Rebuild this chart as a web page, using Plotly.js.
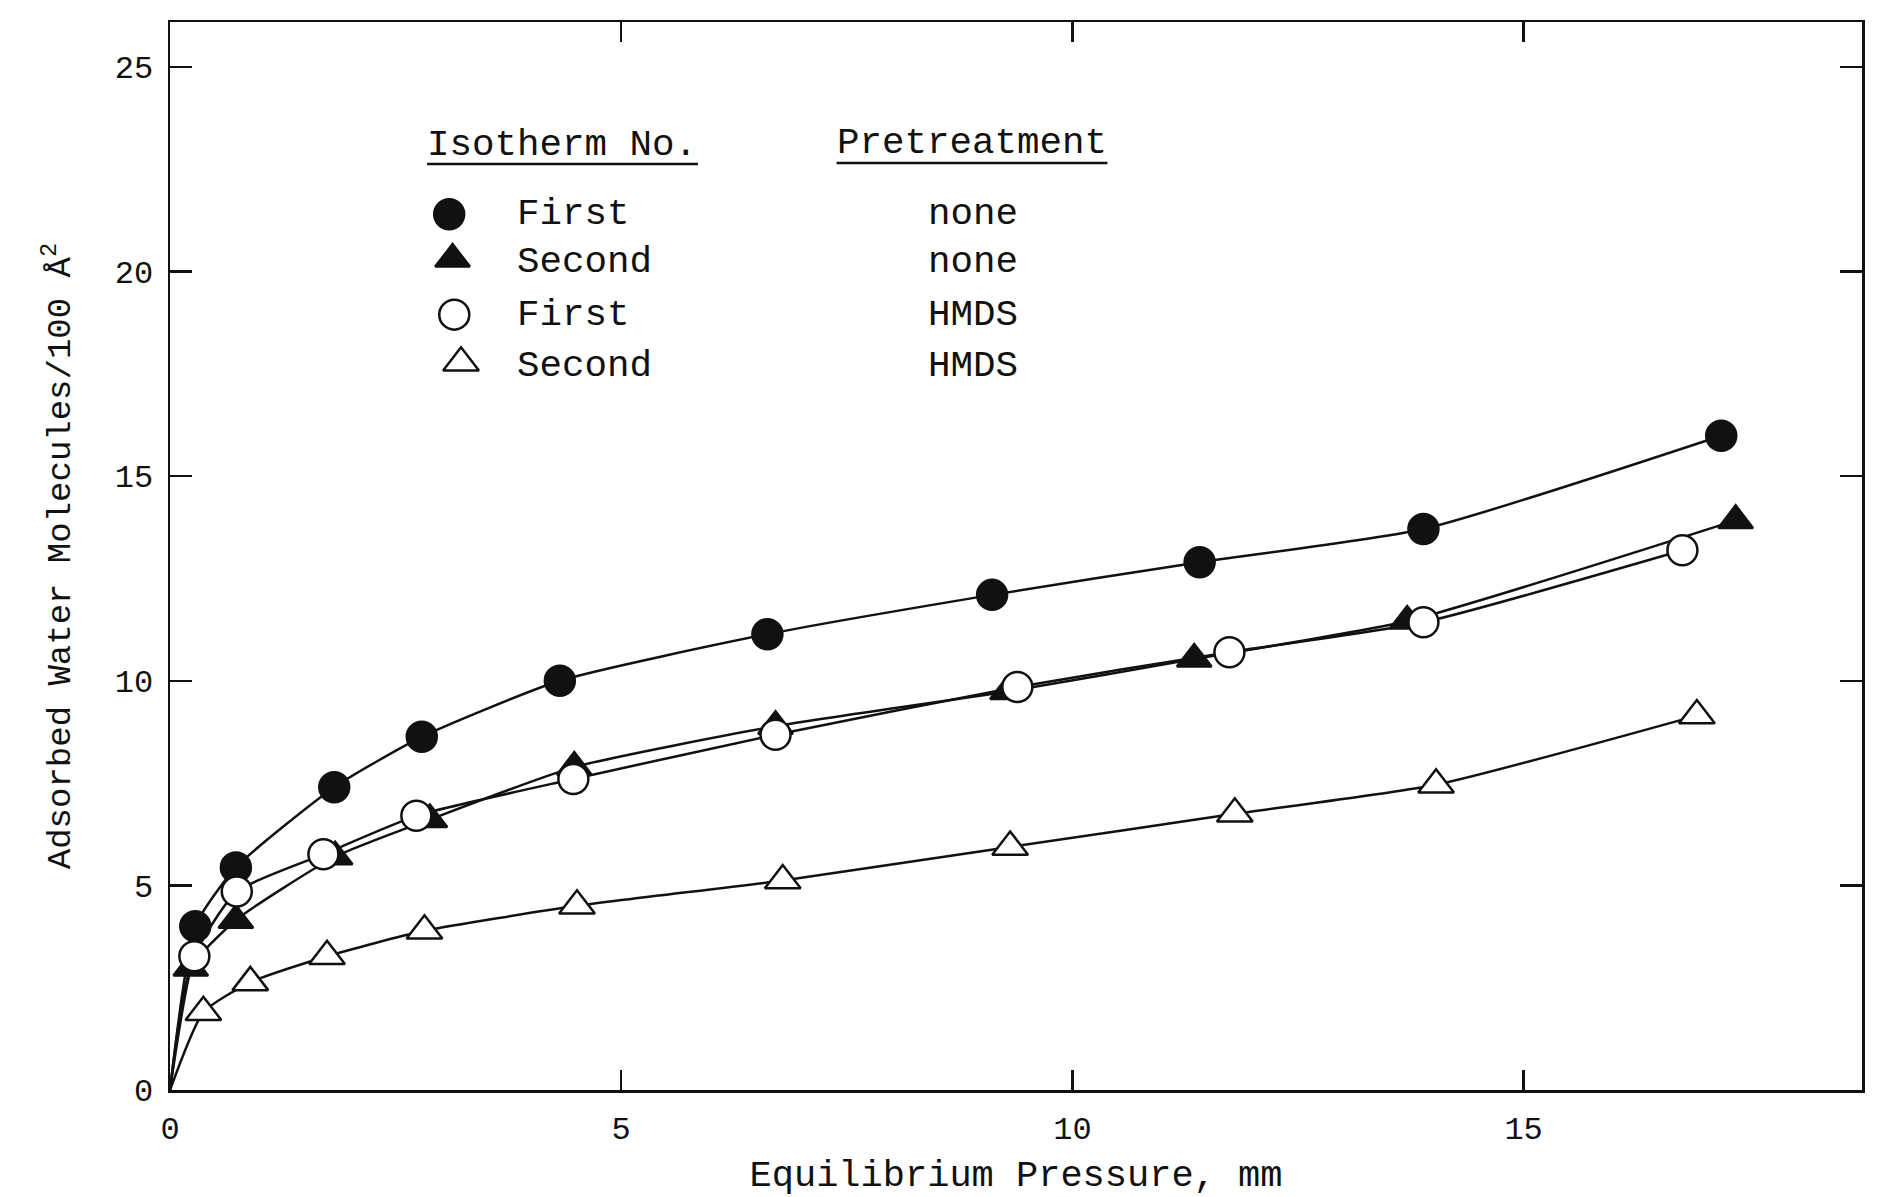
<!DOCTYPE html>
<html>
<head>
<meta charset="utf-8">
<script src="https://cdn.plot.ly/plotly-3.0.1.min.js"></script>
<style>html,body{margin:0;padding:0;background:#fff;}</style>
</head>
<body>
<div id="chart" style="width:1878px;height:1197px;"></div>
<script>
// Equilibrium pressure (mm) and adsorbed water molecules / 100 Å^2
const firstNoneX  = [0.28, 0.73, 1.82, 2.79, 4.32, 6.62, 9.11, 11.41, 13.89, 17.19];
const firstNoneY  = [4.0, 5.44, 7.40, 8.63, 10.0, 11.14, 12.1, 12.9, 13.71, 15.99];
const secondNoneX = [0.23, 0.73, 1.83, 2.88, 4.48, 6.71, 9.28, 11.35, 13.71, 17.35];
const secondNoneY = [2.98, 4.15, 5.70, 6.61, 7.89, 8.89, 9.74, 10.53, 11.46, 13.92];
const firstHmdsX  = [0.27, 0.74, 1.70, 2.73, 4.47, 6.71, 9.39, 11.74, 13.89, 16.76];
const firstHmdsY  = [3.27, 4.85, 5.76, 6.70, 7.60, 8.68, 9.85, 10.70, 11.43, 13.19];
const secondHmdsX = [0.37, 0.89, 1.74, 2.82, 4.51, 6.79, 9.31, 11.80, 14.03, 16.92];
const secondHmdsY = [1.90, 2.63, 3.27, 3.89, 4.50, 5.12, 5.94, 6.75, 7.46, 9.15];

// Curves all start at the origin
const originX = [0];
const originY = [0];

const isothermLabels = ["First", "Second", "First", "Second"];
const pretreatmentLabels = ["none", "none", "HMDS", "HMDS"];
const xTicks = [0, 5, 10, 15];
const yTicks = [0, 5, 10, 15, 20, 25];

const FONT = "Liberation Mono, Courier New, monospace";
const BLACK = "#111";

const series = [
  {x: firstNoneX,  y: firstNoneY,  symbol: "circle",      fill: BLACK, size: 30},
  {x: secondNoneX, y: secondNoneY, symbol: "triangle-up", fill: BLACK, size: 30},
  {x: firstHmdsX,  y: firstHmdsY,  symbol: "circle",      fill: "#fff", size: 30},
  {x: secondHmdsX, y: secondHmdsY, symbol: "triangle-up", fill: "#fff", size: 31}
];

const traces = [];
// curves
series.forEach(s => {
  traces.push({
    x: originX.concat(s.x), y: originY.concat(s.y),
    mode: "lines", type: "scatter",
    line: {color: BLACK, width: 2.5, shape: "spline", smoothing: 0.55},
    hoverinfo: "skip", showlegend: false
  });
});
// markers
series.forEach(s => {
  traces.push({
    x: s.x, y: s.y, mode: "markers", type: "scatter",
    marker: {symbol: s.symbol, size: s.size, color: s.fill, line: {color: BLACK, width: 2.5}},
    showlegend: false
  });
});

// Custom legend symbols on an overlay axis (0..1)
const legX = [0.165, 0.167, 0.168, 0.172];
const legY = [0.820, 0.778, 0.726, 0.681];
series.forEach((s, i) => {
  traces.push({
    x: [legX[i]], y: [legY[i]], xaxis: "x2", yaxis: "y2",
    mode: "markers", type: "scatter",
    marker: {symbol: s.symbol, size: s.size, color: s.fill, line: {color: BLACK, width: 2.5}},
    showlegend: false, hoverinfo: "skip"
  });
});

const rowY = [0.820, 0.775, 0.726, 0.678];
const annotations = [
  {text: "Isotherm No.", x: 0.151, y: 0.885},
  {text: "Pretreatment", x: 0.393, y: 0.887}
];
isothermLabels.forEach((t, i) => annotations.push({text: t, x: 0.204, y: rowY[i]}));
pretreatmentLabels.forEach((t, i) => annotations.push({text: t, x: 0.447, y: rowY[i]}));
annotations.forEach(a => {
  Object.assign(a, {xref: "paper", yref: "paper", xanchor: "left", yanchor: "middle",
    showarrow: false, font: {family: FONT, size: 37.5, color: BLACK}});
});

const shapes = [
  {type: "line", xref: "paper", yref: "paper", x0: 0.152, x1: 0.312, y0: 0.867, y1: 0.867,
   line: {color: BLACK, width: 2.5}},
  {type: "line", xref: "paper", yref: "paper", x0: 0.394, x1: 0.554, y0: 0.868, y1: 0.868,
   line: {color: BLACK, width: 2.5}}
];

const axisCommon = {
  showgrid: false, zeroline: false, showline: true, linecolor: BLACK, linewidth: 2.5,
  mirror: "ticks", ticks: "inside", tickcolor: BLACK, tickwidth: 2.5,
  tickfont: {family: FONT, size: 32, color: BLACK}
};

const layout = {
  width: 1878, height: 1197,
  margin: {l: 170, r: 16, t: 22, b: 107},
  paper_bgcolor: "#fff", plot_bgcolor: "#fff",
  showlegend: false,
  xaxis: Object.assign({}, axisCommon, {
    range: [0, 18.75], tickvals: xTicks, ticklen: 20, ticklabelstandoff: 8,
    title: {text: "Equilibrium Pressure, mm", standoff: 12,
            font: {family: FONT, size: 37, color: BLACK}}
  }),
  yaxis: Object.assign({}, axisCommon, {
    range: [0, 26.1], tickvals: yTicks, ticklen: 22, ticklabelstandoff: 8,
    title: {text: "Adsorbed Water Molecules/100 Å<sup>2</sup>", standoff: 34,
            font: {family: FONT, size: 34, color: BLACK}}
  }),
  xaxis2: {overlaying: "x", range: [0, 1], visible: false, fixedrange: true},
  yaxis2: {overlaying: "y", range: [0, 1], visible: false, fixedrange: true},
  annotations: annotations,
  shapes: shapes
};

Plotly.newPlot("chart", traces, layout, {staticPlot: true, displayModeBar: false});
</script>
</body>
</html>
